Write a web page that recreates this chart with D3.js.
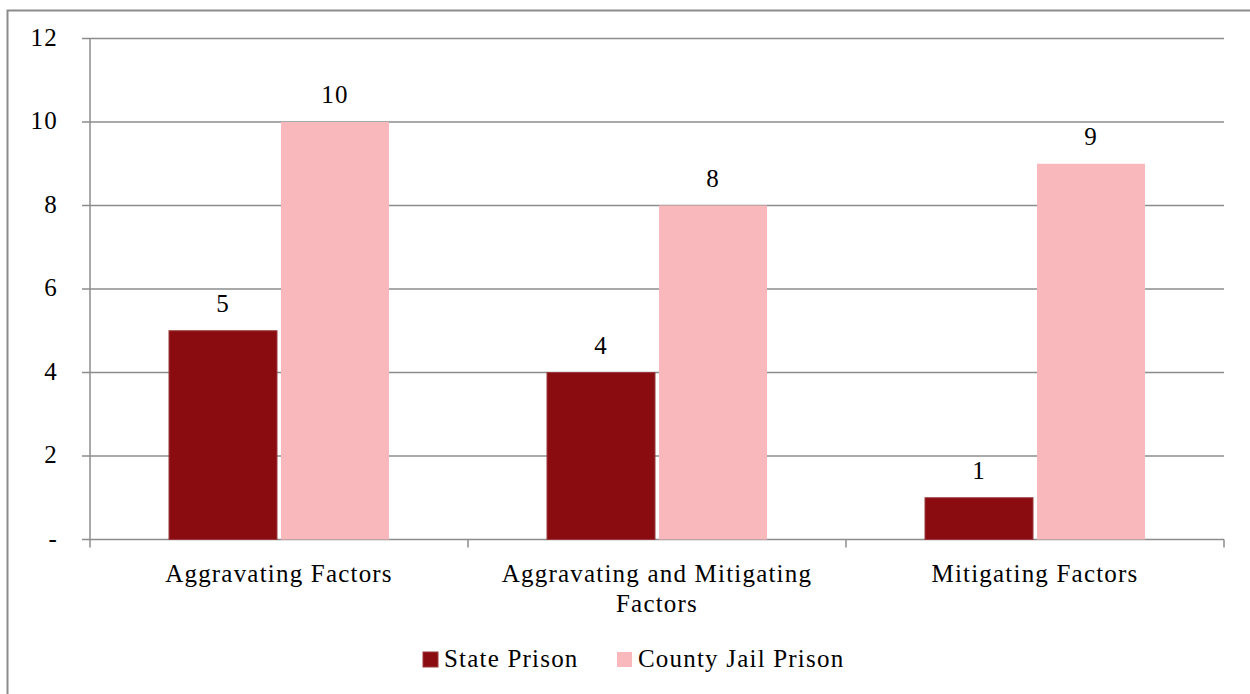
<!DOCTYPE html>
<html>
<head>
<meta charset="utf-8">
<script src="https://cdn.jsdelivr.net/npm/d3@7"></script>
<style>
  html, body { margin: 0; padding: 0; background: #fff; }
</style>
</head>
<body>
<svg id="chart" width="1250" height="694"></svg>
<script>
// Sentencing outcomes by factor type
const categories = [["Aggravating Factors"], ["Aggravating and Mitigating", "Factors"], ["Mitigating Factors"]];
const seriesNames = ["State Prison", "County Jail Prison"];
const statePrison = [5, 4, 1];
const countyJail = [10, 8, 9];
const yTicks = [0, 2, 4, 6, 8, 10, 12];
const yTickLabels = ["-", "2", "4", "6", "8", "10", "12"];
const colors = ["#8a0c10", "#f9b9bc"];

const FONT = "Liberation Serif, DejaVu Serif, serif";
const FS = "25px";
const LS = "1.2px";

const svg = d3.select("#chart");
const W = 1250, H = 694;
const margin = { left: 90, right: 26, top: 38.5, bottom: 154.5 };
const plotW = W - margin.left - margin.right;
const plotH = H - margin.top - margin.bottom;

function styleText(sel) {
  return sel.style("font-family", FONT).style("font-size", FS)
    .style("letter-spacing", LS).attr("fill", "#000");
}

// outer frame
svg.append("rect")
  .attr("x", 7.5).attr("y", 10.5)
  .attr("width", W - 7.5 + 10).attr("height", H)
  .attr("fill", "none").attr("stroke", "#8c8c8c").attr("stroke-width", 2);

const g = svg.append("g").attr("transform", `translate(${margin.left},${margin.top})`);

const x0 = d3.scaleBand().domain(d3.range(categories.length)).range([0, plotW]).paddingInner(0).paddingOuter(0);
const y = d3.scaleLinear().domain([0, 12]).range([plotH, 0]);

// gridlines
g.selectAll("line.grid").data(yTicks).join("line")
  .attr("class", "grid")
  .attr("x1", -8).attr("x2", plotW)
  .attr("y1", d => y(d)).attr("y2", d => y(d))
  .attr("stroke", "#8c8c8c").attr("stroke-width", 1.5);

// y axis line
g.append("line").attr("x1", 0).attr("x2", 0).attr("y1", 0).attr("y2", plotH + 8)
  .attr("stroke", "#8c8c8c").attr("stroke-width", 1.5);

// x category tick marks
const xTickPos = d3.range(categories.length + 1).map(i => i * x0.bandwidth());
g.selectAll("line.xtick").data(xTickPos.slice(1)).join("line")
  .attr("x1", d => d).attr("x2", d => d)
  .attr("y1", plotH).attr("y2", plotH + 8)
  .attr("stroke", "#8c8c8c").attr("stroke-width", 1.5);

// y tick labels
styleText(g.selectAll("text.ytick").data(yTicks).join("text")
  .attr("class", "ytick")
  .attr("x", -32).attr("y", d => y(d) + 7)
  .attr("text-anchor", "end"))
  .text((d, i) => yTickLabels[i]);

// bars
const barW = 108, gap = 4;
const series = [statePrison, countyJail];
series.forEach((vals, s) => {
  const offset = s === 0 ? -(barW + gap / 2) : gap / 2;
  g.selectAll(`rect.s${s}`).data(vals).join("rect")
    .attr("class", `s${s}`)
    .attr("x", (d, i) => x0(i) + x0.bandwidth() / 2 + offset)
    .attr("y", d => y(d))
    .attr("width", barW)
    .attr("height", d => plotH - y(d))
    .attr("fill", colors[s])
    .attr("stroke", s === 0 ? "#9a3a3c" : "none")
    .attr("stroke-width", 1);
  styleText(g.selectAll(`text.v${s}`).data(vals).join("text")
    .attr("class", `v${s}`)
    .attr("x", (d, i) => x0(i) + x0.bandwidth() / 2 + offset + barW / 2)
    .attr("y", d => y(d) - 19)
    .attr("text-anchor", "middle"))
    .text(d => d);
});

// category labels
categories.forEach((lines, i) => {
  const t = styleText(g.append("text")
    .attr("x", x0(i) + x0.bandwidth() / 2)
    .attr("y", plotH + 42.5)
    .attr("text-anchor", "middle"));
  lines.forEach((ln, k) => {
    t.append("tspan").attr("x", x0(i) + x0.bandwidth() / 2).attr("dy", k === 0 ? 0 : 30).text(ln);
  });
});

// legend
const legend = svg.append("g").attr("transform", "translate(423,652)");
const legendX = [0, 194];
seriesNames.forEach((name, i) => {
  const lg = legend.append("g").attr("transform", `translate(${legendX[i]},0)`);
  lg.append("rect").attr("width", 15).attr("height", 15).attr("fill", colors[i])
    .attr("stroke", i === 0 ? "#9a3a3c" : "none");
  styleText(lg.append("text").attr("x", 21).attr("y", 15)).text(name);
});
</script>
</body>
</html>
